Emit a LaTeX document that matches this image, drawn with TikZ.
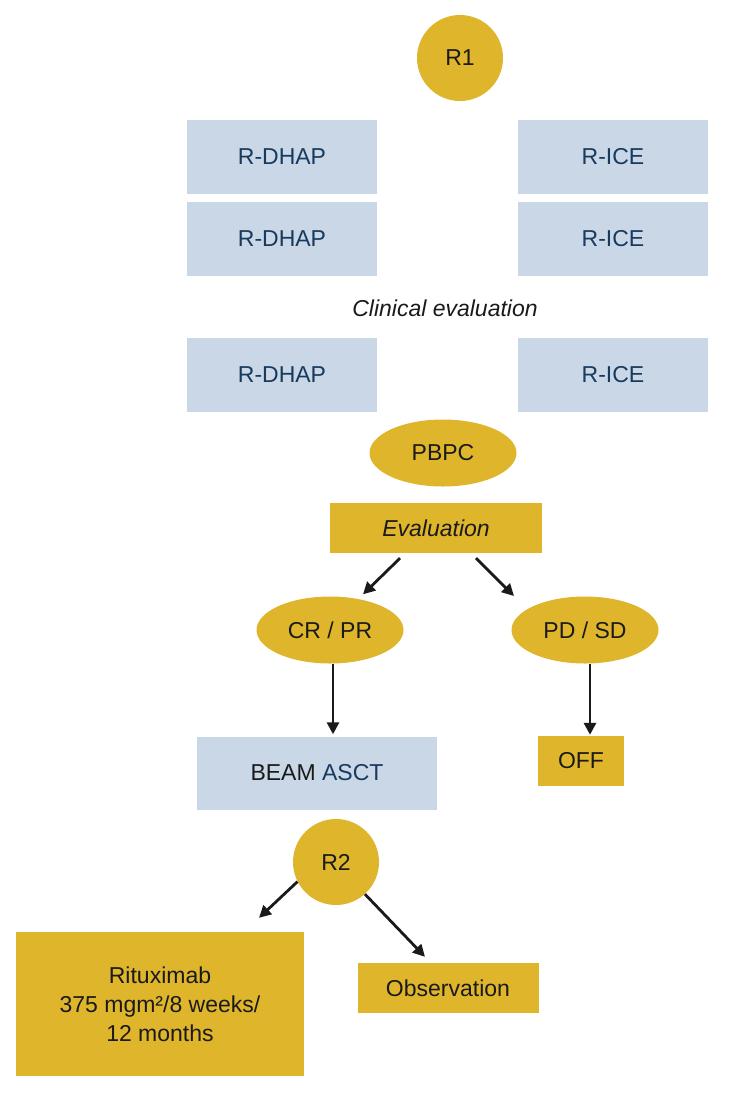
\documentclass[tikz,border=0pt]{standalone}
\usepackage{fontspec}
\setmainfont{Liberation Sans}
\usetikzlibrary{arrows.meta,shapes.geometric}
\definecolor{gold}{HTML}{DFB52C}
\definecolor{lblue}{HTML}{C9D7E6}
\definecolor{dblue}{HTML}{173A5E}
\definecolor{ink}{HTML}{1A1A1A}
\tikzset{
  base/.style={inner sep=0pt, font=\fontsize{23}{29}\selectfont, text=ink, align=center},
  bluebox/.style={base, fill=lblue, minimum width=190pt, minimum height=74pt, text=dblue},
  goldbox/.style={base, fill=gold},
  goldcirc/.style={base, circle, fill=gold, minimum size=86pt},
  goldell/.style={base, ellipse, fill=gold, minimum width=147pt, minimum height=67pt},
  arr/.style={-{Triangle[length=12pt,width=12pt]}, line width=2.8pt, draw=ink}
}
\begin{document}
\begin{tikzpicture}[x=1pt,y=-1pt]
\useasboundingbox (0,0) rectangle (730,1096);
\node[goldcirc] (r1) at (460,58) {R1};
\node[bluebox] (d1) at (282,157) {R-DHAP};
\node[bluebox] (d2) at (282,239) {R-DHAP};
\node[bluebox] (d3) at (282,375) {R-DHAP};
\node[bluebox] (i1) at (613,157) {R-ICE};
\node[bluebox] (i2) at (613,239) {R-ICE};
\node[bluebox] (i3) at (613,375) {R-ICE};
\node[base, font=\fontsize{23}{29}\selectfont\itshape] (ce) at (445,308) {Clinical evaluation};
\node[goldell] (pb) at (443,453) {PBPC};
\node[goldbox, minimum width=212pt, minimum height=50pt, font=\fontsize{23}{29}\selectfont\itshape] (ev) at (436,528) {Evaluation};
\node[goldell] (cr) at (330,630) {CR / PR};
\node[goldell] (pd) at (585,630) {PD / SD};
\node[base, fill=lblue, minimum width=240pt, minimum height=73pt] (bm) at (317,773) {BEAM \textcolor{dblue}{ASCT}};
\node[goldbox, minimum width=86pt, minimum height=50pt] (off) at (581,761) {OFF};
\node[goldcirc] (r2) at (336,862) {R2};
\node[goldbox, minimum width=288pt, minimum height=144pt] (rx) at (160,1004) {Rituximab\\375 mgm²/8 weeks/\\12 months};
\node[goldbox, minimum width=181pt, minimum height=50pt] (ob) at (448,988) {Observation};
\draw[arr] ([xshift=-36pt,yshift=-5pt]ev.south) -- ([xshift=33pt,yshift=2pt]cr.north);
\draw[arr] ([xshift=40pt,yshift=-5pt]ev.south) -- ([xshift=-71pt,yshift=34pt]pd.center);
\draw[arr] ([xshift=3pt]cr.south) -- ([xshift=16pt,yshift=2pt]bm.north);
\draw[arr] ([xshift=5pt]pd.south) -- ([xshift=9pt,yshift=1pt]off.north);
\draw[arr] (r2.207) -- ([xshift=99pt,yshift=14pt]rx.north);
\draw[arr] (r2.312) -- ([xshift=-23pt,yshift=6pt]ob.north);
\end{tikzpicture}
\end{document}
